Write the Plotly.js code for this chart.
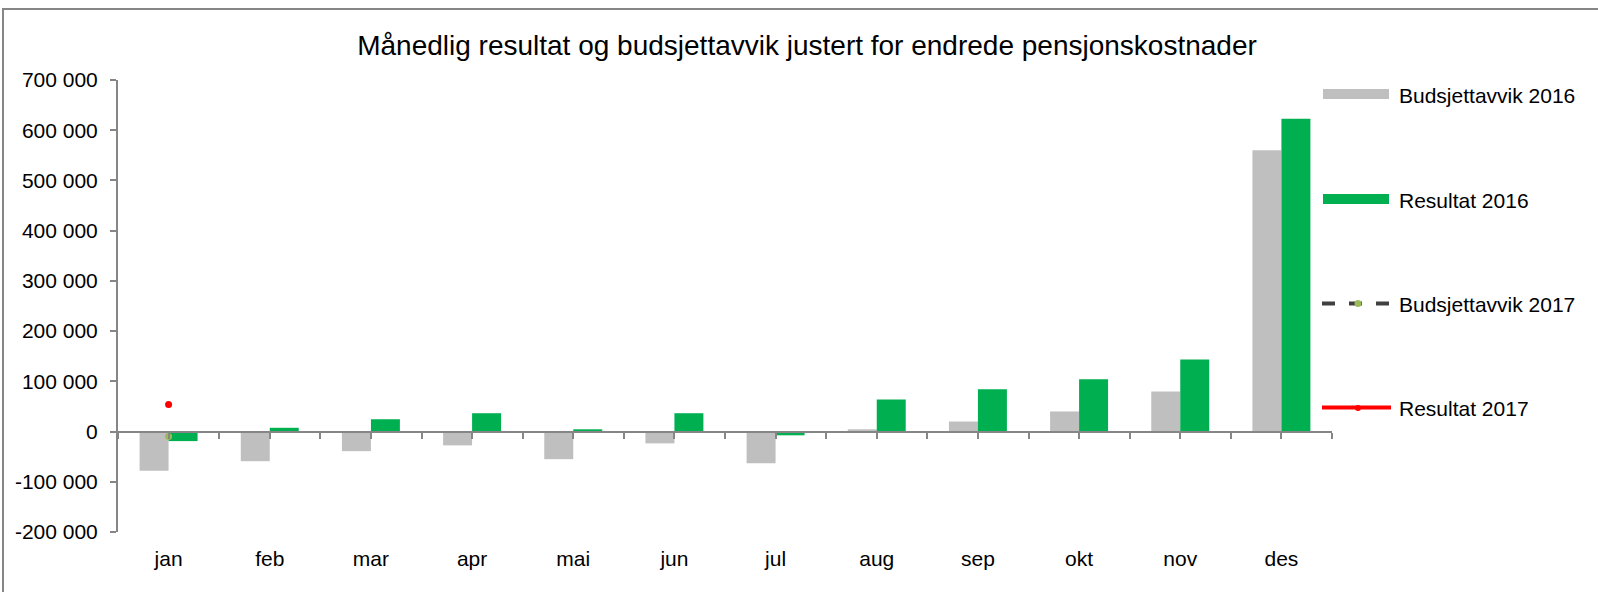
<!DOCTYPE html>
<html>
<head>
<meta charset="utf-8">
<script src="https://cdn.plot.ly/plotly-3.0.1.min.js"></script>
<style>
  html, body { margin: 0; padding: 0; background: #ffffff; overflow: hidden; }
  #chart { width: 1598px; height: 592px; }
</style>
</head>
<body>
<div id="chart"></div>
<script>
// ---- data ----
const months = ['jan','feb','mar','apr','mai','jun','jul','aug','sep','okt','nov','des'];
const budsjettavvik2016 = [-78000, -59000, -39000, -27500, -55000, -23500, -63000, 4500, 20000, 40000, 80000, 560000];
const resultat2016 = [-19000, 7500, 24500, 36500, 4500, 36500, -7500, 64000, 84000, 104000, 143500, 623000];
const budsjettavvik2017 = [-10000, null, null, null, null, null, null, null, null, null, null, null];
const resultat2017 = [54000, null, null, null, null, null, null, null, null, null, null, null];
const seriesNames = ['Budsjettavvik 2016', 'Resultat 2016', 'Budsjettavvik 2017', 'Resultat 2017'];
const yTickVals = [-200000, -100000, 0, 100000, 200000, 300000, 400000, 500000, 600000, 700000];
const yTickText = ['-200 000', '-100 000', '0', '100 000', '200 000', '300 000', '400 000', '500 000', '600 000', '700 000'];
const titleText = 'Månedlig resultat og budsjettavvik justert for endrede pensjonskostnader';

// ---- styles ----
const GRAY = '#BFBFBF', GREEN = '#00B050', DARK = '#404040', OLIVE = '#9BBB59', RED = '#FF0000', AX = '#868686';
const FONT = '"Liberation Sans", Arial, sans-serif';
const W = 1598, H = 592;
const L = 118, R = 1332, T = 80, B = 532;
const px = x => (x - L) / (R - L);
const py = y => (B - y) / (B - T);
const yMin = -200000, yMax = 700000;

const traces = [
  { type: 'bar', name: seriesNames[0], x: months, y: budsjettavvik2016, marker: { color: GRAY }, showlegend: false },
  { type: 'bar', name: seriesNames[1], x: months, y: resultat2016, marker: { color: GREEN }, showlegend: false },
  { type: 'scatter', mode: 'lines+markers', name: seriesNames[2], x: months, y: budsjettavvik2017,
    line: { color: DARK, width: 4, dash: 'dash' }, marker: { color: OLIVE, size: 7 }, showlegend: false },
  { type: 'scatter', mode: 'lines+markers', name: seriesNames[3], x: months, y: resultat2017,
    line: { color: RED, width: 4 }, marker: { color: RED, size: 7 }, showlegend: false },
  // carrier for the category axis drawn at y = 0 (no visible marks)
  { type: 'scatter', mode: 'markers', x: [null], y: [null], xaxis: 'x2', yaxis: 'y', showlegend: false, hoverinfo: 'skip' }
];

// ---- chart frame (top and left edges visible) ----
const shapes = [
  { type: 'rect', xref: 'paper', yref: 'paper', layer: 'below', x0: px(3), x1: px(1800), y0: py(9), y1: py(800),
    fillcolor: 'rgba(0,0,0,0)', line: { color: AX, width: 2 } }
];

// ---- custom legend (swatches + text) ----
const rows = [94, 199, 303.5, 407.5];
const sx0 = 1323, sx1 = 1389, tx = 1397;
shapes.push(
  { type: 'rect', xref: 'paper', yref: 'paper', x0: px(sx0), x1: px(sx1), y0: py(rows[0] + 5), y1: py(rows[0] - 5), fillcolor: GRAY, line: { width: 0 } },
  { type: 'rect', xref: 'paper', yref: 'paper', x0: px(sx0), x1: px(sx1), y0: py(rows[1] + 5), y1: py(rows[1] - 5), fillcolor: GREEN, line: { width: 0 } },
  { type: 'line', xref: 'paper', yref: 'paper', x0: px(1322), x1: px(1391), y0: py(rows[2]), y1: py(rows[2]), line: { color: DARK, width: 4, dash: '13px,14px' } },
  { type: 'circle', xref: 'paper', yref: 'paper', x0: px(1354.5), x1: px(1361.5), y0: py(rows[2] + 3.5), y1: py(rows[2] - 3.5), fillcolor: OLIVE, line: { width: 0 } },
  { type: 'line', xref: 'paper', yref: 'paper', x0: px(1322), x1: px(1391), y0: py(rows[3]), y1: py(rows[3]), line: { color: RED, width: 4 } },
  { type: 'circle', xref: 'paper', yref: 'paper', x0: px(1355), x1: px(1361), y0: py(rows[3] + 3.5), y1: py(rows[3] - 2.5), fillcolor: RED, line: { width: 0 } }
);
const annotations = seriesNames.map((n, i) => ({
  xref: 'paper', yref: 'paper', x: px(tx), y: py(rows[i] + 1), xanchor: 'left', yanchor: 'middle',
  text: n, showarrow: false, font: { family: FONT, size: 21, color: '#000000' }
}));

const layout = {
  width: W, height: H,
  paper_bgcolor: '#ffffff', plot_bgcolor: 'rgba(0,0,0,0)',
  margin: { l: L, r: W - R, t: T, b: H - B, pad: 0, autoexpand: false },
  font: { family: FONT, size: 21, color: '#000000' },
  title: { text: titleText, font: { family: FONT, size: 28, color: '#000000' },
           x: 807 / W, xanchor: 'center', xref: 'container', y: 1 - 45 / H, yanchor: 'middle', yref: 'container' },
  barmode: 'group', bargap: 0.427, bargroupgap: 0,
  showlegend: false,
  xaxis: { type: 'category', range: [-0.5, 11.5], showline: false, ticks: '', showgrid: false, zeroline: false,
           tickfont: { family: FONT, size: 21, color: '#000000' }, ticklabelstandoff: 12 },
  xaxis2: { overlaying: 'x', type: 'linear', range: [-0.5, 11.5], anchor: 'free', position: (0 - yMin) / (yMax - yMin),
            showline: true, linecolor: AX, linewidth: 2, ticks: 'outside', ticklen: 6, tickwidth: 2, tickcolor: AX,
            tickmode: 'linear', tick0: -0.5, dtick: 0.5, showticklabels: false, showgrid: false, zeroline: false },
  yaxis: { range: [yMin, yMax], tickmode: 'array', tickvals: yTickVals, ticktext: yTickText,
           showline: true, linecolor: AX, linewidth: 2, ticks: 'outside', ticklen: 6, tickwidth: 2, tickcolor: AX,
           showgrid: false, zeroline: false, tickfont: { family: FONT, size: 21, color: '#000000' }, ticklabelstandoff: 8 },
  shapes: shapes,
  annotations: annotations
};

Plotly.newPlot('chart', traces, layout, { displayModeBar: false, staticPlot: true });
</script>
</body>
</html>
